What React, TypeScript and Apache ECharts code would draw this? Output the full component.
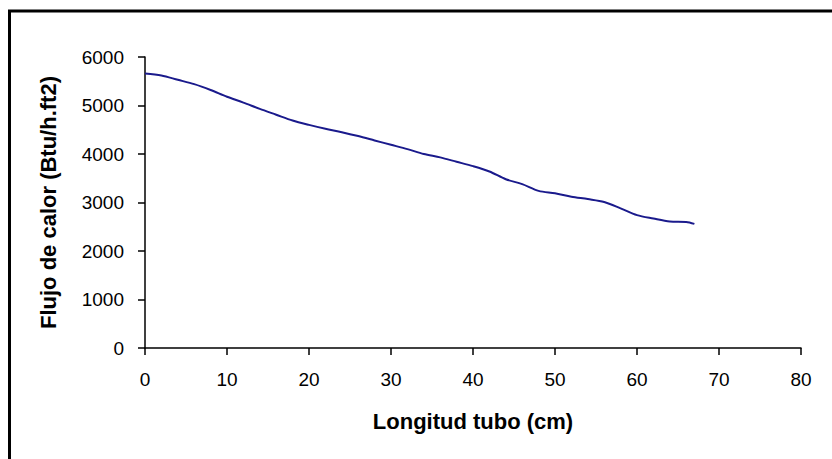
import React, { useEffect, useRef } from "react";
import * as echarts from "echarts";

const longitud = [0, 2, 4, 6, 8, 10, 12, 14, 16, 18, 20, 22, 24, 26, 28, 30, 32, 34, 36, 38, 40, 42, 44, 46, 48, 50, 52, 54, 56, 58, 60, 62, 64, 66, 67];
const flujo = [5660, 5620, 5530, 5440, 5320, 5180, 5060, 4930, 4810, 4690, 4600, 4520, 4450, 4370, 4280, 4190, 4100, 4000, 3930, 3840, 3750, 3640, 3480, 3380, 3240, 3190, 3120, 3070, 3010, 2880, 2740, 2670, 2610, 2600, 2560];

const xTitle = "Longitud tubo (cm)";
const yTitle = "Flujo de calor (Btu/h.ft2)";

export default function App() {
  const ref = useRef<HTMLDivElement>(null);
  useEffect(() => {
    if (!ref.current) return;
    const chart = echarts.init(ref.current, undefined, { renderer: "svg" });
    const font = "'Liberation Sans', Arial, sans-serif";
    chart.setOption({
      animation: false,
      backgroundColor: "#ffffff",
      textStyle: { fontFamily: font },
      grid: { left: 145, right: 31, top: 57, bottom: 111, containLabel: false },
      graphic: [
        {
          type: "rect",
          shape: { x: 9.5, y: 11, width: 900, height: 600 },
          style: { fill: "none", stroke: "#000", lineWidth: 3 },
          silent: true,
        },
      ],
      xAxis: {
        type: "value",
        min: 0,
        max: 80,
        interval: 10,
        name: xTitle,
        nameLocation: "middle",
        nameGap: 62,
        nameTextStyle: { fontSize: 22, fontWeight: "bold", color: "#000", fontFamily: font },
        axisLine: { lineStyle: { color: "#000", width: 1.5 } },
        axisTick: { show: true, length: 7, lineStyle: { color: "#000", width: 1.5 } },
        axisLabel: { fontSize: 19, color: "#000", margin: 22, fontFamily: font, formatter: (v: number) => String(v) },
        splitLine: { show: false },
      },
      yAxis: {
        type: "value",
        min: 0,
        max: 6000,
        interval: 1000,
        name: yTitle,
        nameLocation: "middle",
        nameGap: 86,
        nameRotate: 90,
        nameTextStyle: { fontSize: 22, fontWeight: "bold", color: "#000", fontFamily: font },
        axisLine: { show: true, lineStyle: { color: "#000", width: 1.5 } },
        axisTick: { show: true, length: 7, lineStyle: { color: "#000", width: 1.5 } },
        axisLabel: { fontSize: 19, color: "#000", margin: 21, fontFamily: font, formatter: (v: number) => String(v) },
        splitLine: { show: false },
      },
      series: [
        {
          type: "line",
          data: longitud.map((x, i) => [x, flujo[i]]),
          showSymbol: false,
          symbol: "none",
          smooth: 0.3,
          lineStyle: { color: "#1a1a8c", width: 2 },
        },
      ],
    });
    return () => chart.dispose();
  }, []);
  return (
    <div
      ref={ref}
      style={{ position: "fixed", left: 0, top: 0, width: 832, height: 459, background: "#fff" }}
    />
  );
}
